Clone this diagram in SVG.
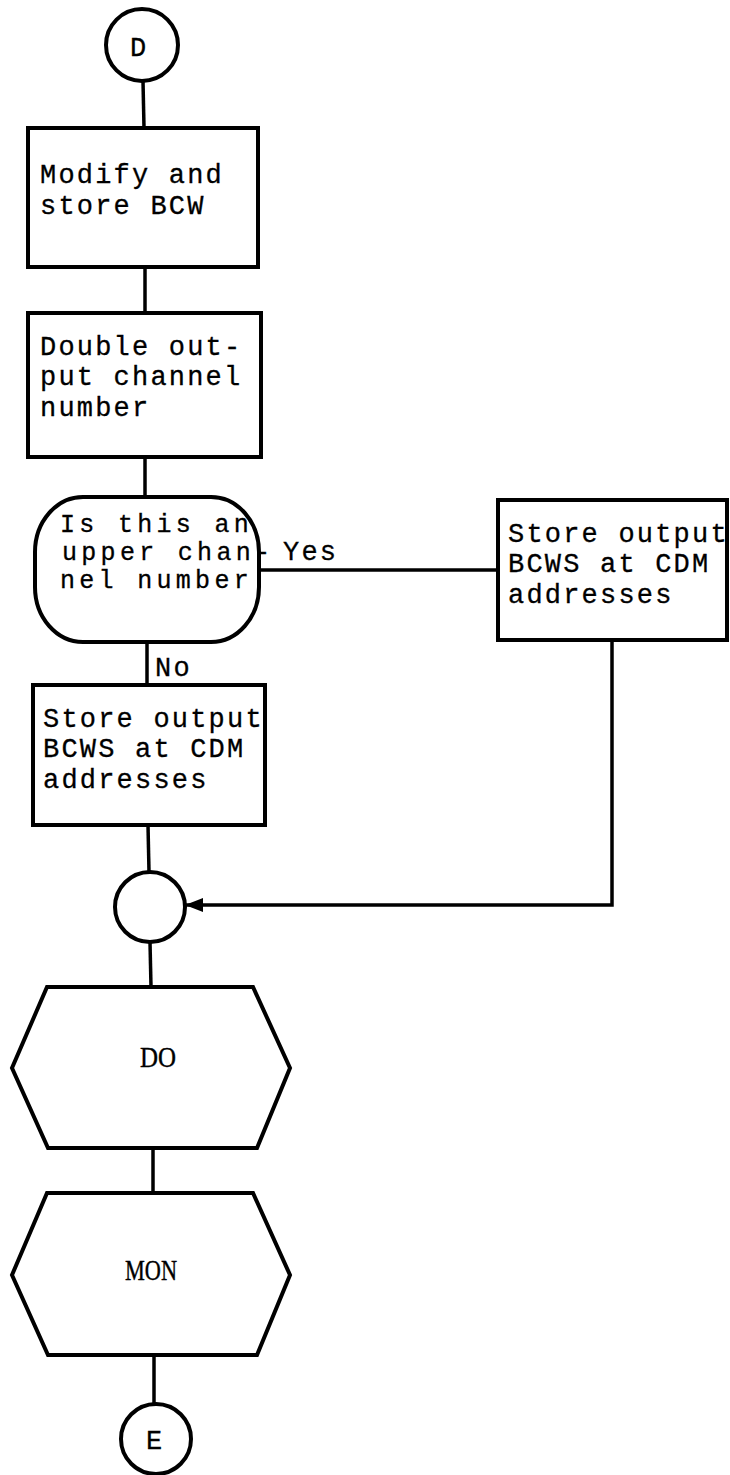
<svg xmlns="http://www.w3.org/2000/svg" width="730" height="1475" viewBox="0 0 730 1475">
  <defs>
    <style>
      .shape { fill: #ffffff; stroke: #000000; stroke-width: 4; }
      .conn { fill: none; stroke: #000000; stroke-width: 3.5; }
      .t { font-family: "Liberation Mono", "DejaVu Sans Mono", monospace; font-size: 27px; letter-spacing: 2.2px; fill: #000000; stroke: #000000; stroke-width: 0.3; }
      .d { font-family: "Liberation Mono", "DejaVu Sans Mono", monospace; font-size: 25px; letter-spacing: 4.3px; fill: #000000; stroke: #000000; stroke-width: 0.3; }
      .s { font-family: "Liberation Serif", "DejaVu Serif", serif; font-size: 30px; fill: #000000; stroke: #000000; stroke-width: 0.4; }
    </style>
    <marker id="arrow" viewBox="0 0 18 14" refX="17" refY="7" markerWidth="18" markerHeight="14" markerUnits="userSpaceOnUse" orient="auto">
      <path d="M0,0 L18,7 L0,14 Z" fill="#000000"/>
    </marker>
  </defs>
  <rect width="730" height="1475" fill="#ffffff"/>

  <g id="connectors">
    <line class="conn" x1="143" y1="81" x2="144" y2="128"/>
    <line class="conn" x1="145" y1="267" x2="145" y2="313"/>
    <line class="conn" x1="145" y1="457" x2="145" y2="497"/>
    <line class="conn" x1="147" y1="642" x2="147" y2="685"/>
    <line class="conn" x1="257" y1="570" x2="498" y2="570"/>
    <line class="conn" x1="148" y1="825" x2="149" y2="872"/>
    <polyline class="conn" points="612,640 612,905 186,905" marker-end="url(#arrow)"/>
    <line class="conn" x1="150" y1="942" x2="151" y2="987"/>
    <line class="conn" x1="153" y1="1148" x2="153" y2="1193"/>
    <line class="conn" x1="154" y1="1355" x2="154" y2="1403"/>
    <text class="t" x="283" y="560">Yes</text>
    <text class="t" x="155" y="676">No</text>
  </g>

  <g id="start-d">
    <circle class="shape" cx="142" cy="45" r="36"/>
    <text class="t" x="130" y="56" font-size="26">D</text>
  </g>

  <g id="modify-bcw">
    <rect class="shape" x="28" y="128" width="230" height="139"/>
    <text class="t" x="40" y="183">Modify and</text>
    <text class="t" x="40" y="214">store BCW</text>
  </g>

  <g id="double-channel">
    <rect class="shape" x="28" y="313" width="233" height="144"/>
    <text class="t" x="40" y="355">Double out-</text>
    <text class="t" x="40" y="385">put channel</text>
    <text class="t" x="40" y="416">number</text>
  </g>

  <g id="upper-channel-decision">
    <rect class="shape" x="35" y="497" width="224" height="145" rx="48" ry="55"/>
    <text class="d" x="60" y="532">Is this an</text>
    <text class="d" x="62" y="560">upper chan-</text>
    <text class="d" x="60" y="588">nel number</text>
  </g>

  <g id="store-bcws-yes">
    <rect class="shape" x="498" y="500" width="229" height="140"/>
    <text class="t" x="508" y="542">Store output</text>
    <text class="t" x="508" y="572">BCWS at CDM</text>
    <text class="t" x="508" y="603">addresses</text>
  </g>

  <g id="store-bcws-no">
    <rect class="shape" x="33" y="685" width="232" height="140"/>
    <text class="t" x="43" y="727">Store output</text>
    <text class="t" x="43" y="757">BCWS at CDM</text>
    <text class="t" x="43" y="788">addresses</text>
  </g>

  <g id="join">
    <circle class="shape" cx="150" cy="907" r="35"/>
  </g>

  <g id="do">
    <polygon class="shape" points="47,987 253,987 290,1068 257,1148 48,1148 12,1068"/>
    <text class="s" x="140" y="1067" textLength="36" lengthAdjust="spacingAndGlyphs">DO</text>
  </g>

  <g id="mon">
    <polygon class="shape" points="47,1193 253,1193 290,1275 257,1355 48,1355 12,1275"/>
    <text class="s" x="125" y="1280" textLength="52" lengthAdjust="spacingAndGlyphs">MON</text>
  </g>

  <g id="end-e">
    <circle class="shape" cx="156" cy="1439" r="35"/>
    <text class="t" x="146" y="1449" font-size="26">E</text>
  </g>
</svg>
